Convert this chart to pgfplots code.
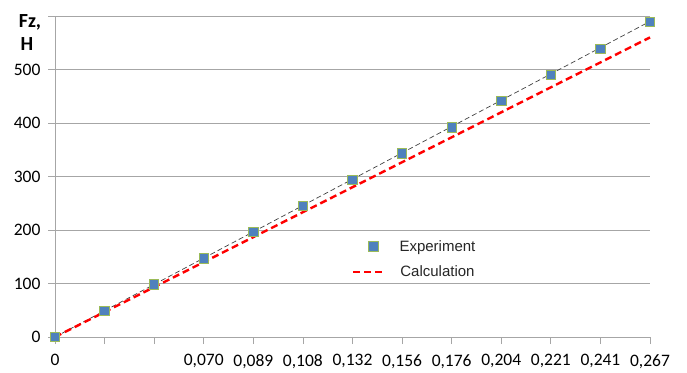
\documentclass[border=0pt]{standalone}
\usepackage{pgfplots}
\pgfplotsset{compat=1.18}
\usepackage{fontspec}
\setmainfont{Carlito}
\newfontfamily\arial{Liberation Sans}
\definecolor{expfill}{HTML}{4F81BD}
\definecolor{expedge}{HTML}{9BBB59}
\definecolor{gridc}{HTML}{A6A6A6}
\definecolor{txt}{HTML}{262626}
\pgfplotsset{
  explegend/.style={legend image code/.code={\draw[##1] plot coordinates {(20pt,0pt)};}},
  calclegend/.style={legend image code/.code={\draw[##1] (0pt,0pt)--(31pt,0pt);}},
}
\begin{document}
\begin{tikzpicture}
\useasboundingbox (-55pt,-35pt) rectangle (632pt,337pt);
\begin{axis}[
  at={(0pt,0pt)}, anchor=south west,
  scale only axis, width=595pt, height=321pt,
  xmin=0, xmax=12, ymin=0, ymax=600,
  axis lines=left, axis line style={gridc,-, line width=0.8pt},
  xtick={0,...,12},
  xticklabels={{0},{},{},{0,070},{0,089},{0,108},{0,132},{0,156},{0,176},{0,204},{0,221},{0,241},{0,267}},
  ytick={0,100,200,300,400,500,600},
  yticklabels={0,100,200,300,400,500,{}},
  ymajorgrids, grid style={gridc, line width=0.8pt},
  tick style={gridc, line width=0.8pt}, tick align=outside, major tick length=7pt,
  ticklabel style={font=\fontsize{17.5}{20}\selectfont, text=black},
  xticklabel style={yshift=-7pt},
  yticklabel style={xshift=-4pt},
  clip=false,
  legend style={at={(0.499,0.308)}, anchor=north west, draw=none, fill=none,
    font=\arial\fontsize{15}{17}\selectfont, text=txt, row sep=9pt, inner sep=0pt,
    /tikz/every odd column/.append style={column sep=12pt}},
]
\addplot[only marks, mark=square*, mark size=4.7pt,
  mark options={fill=expfill, draw=expedge, line width=0.8pt}, explegend]
  coordinates {(0,0)(1,49)(2,98)(3,147)(4,196)(5,245)(6,294)(7,343)(8,392)(9,441)(10,490)(11,539)(12,589)};
\addlegendentry{Experiment}
\addplot[forget plot, draw=black!75, line width=0.7pt, dash pattern=on 5pt off 3pt]
  coordinates {(0,0)(12,590)};
\addplot[red, line width=2.4pt, dash pattern=on 7pt off 4pt, calclegend]
  coordinates {(0,0)(1,46.7)(2,93.3)(3,140)(4,186.7)(5,233.3)(6,280)(7,326.7)(8,373.3)(9,420)(10,466.7)(11,513.3)(12,560)};
\addlegendentry{Calculation}
\end{axis}
\node[anchor=base, font=\fontsize{20}{22}\selectfont\bfseries] at (-25pt,309pt) {Fz,};
\node[anchor=base, font=\fontsize{20}{22}\selectfont\bfseries] at (-28pt,286pt) {H};
\end{tikzpicture}
\end{document}
